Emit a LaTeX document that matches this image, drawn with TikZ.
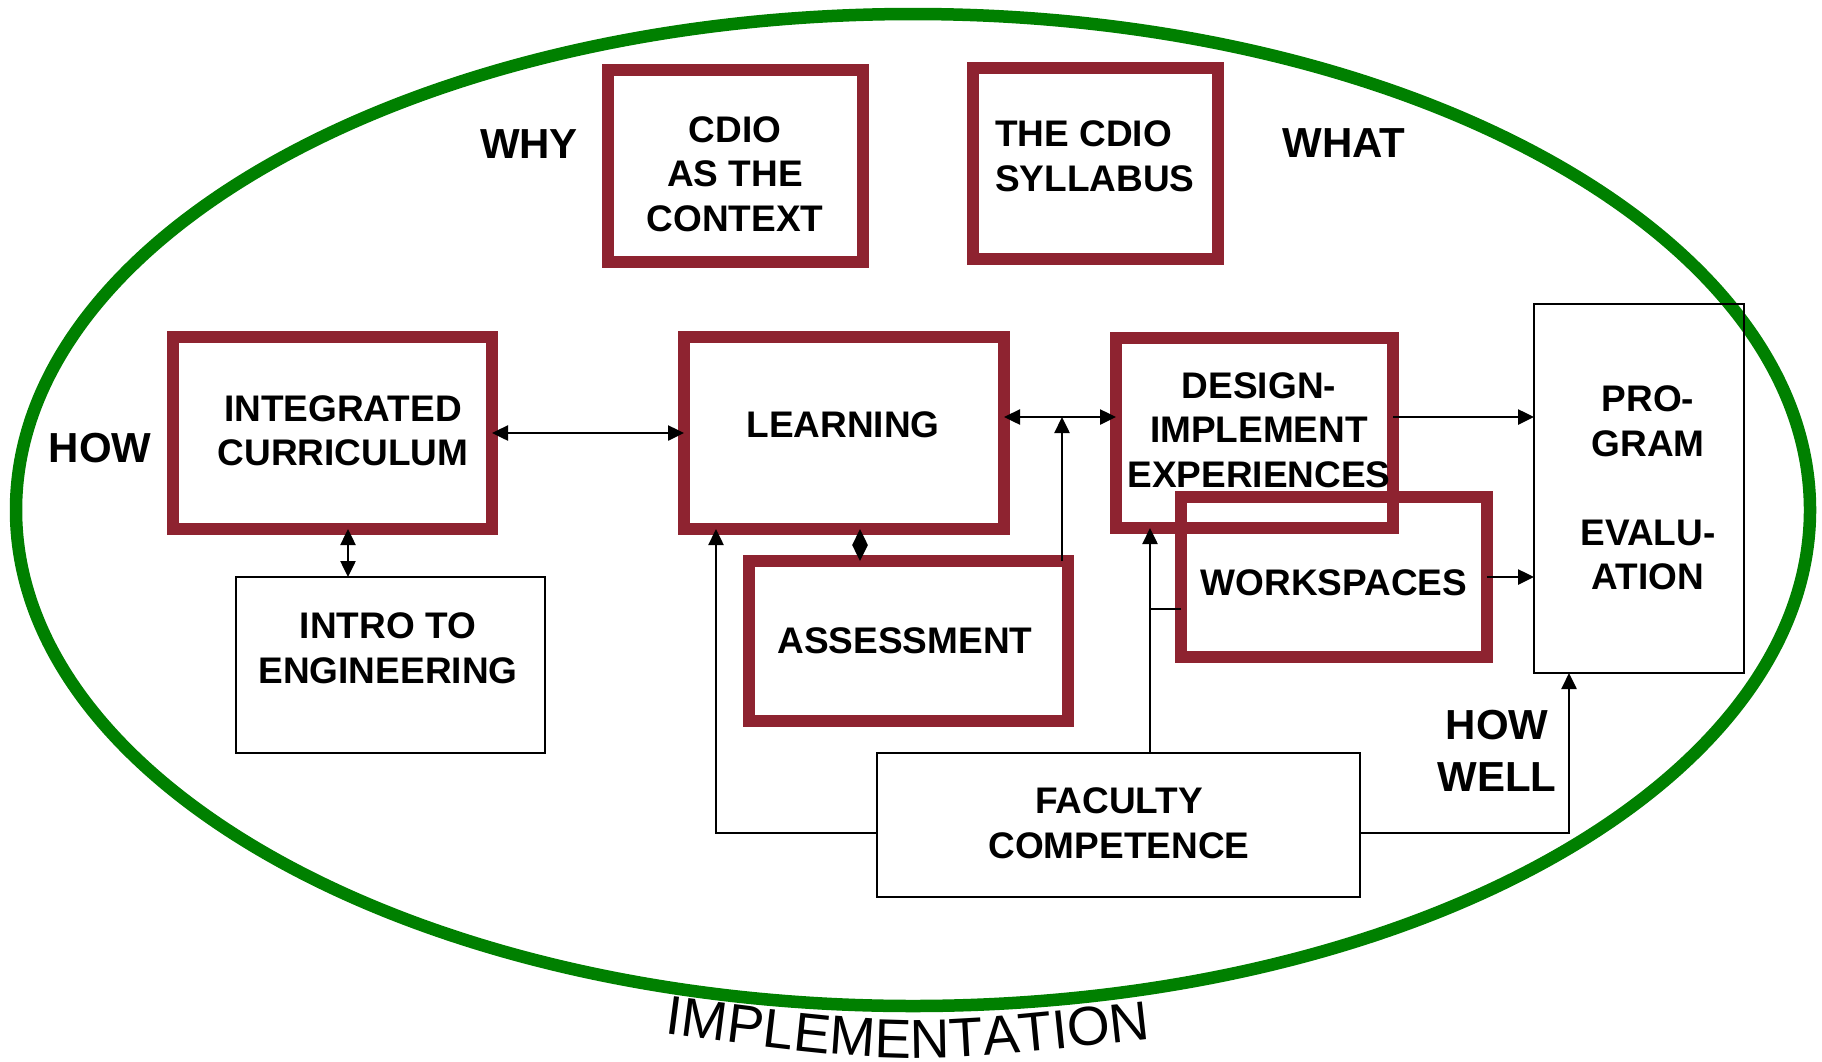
\documentclass[tikz,border=0pt]{standalone}
\usepackage{fontspec}
\setmainfont{Liberation Sans}
\usetikzlibrary{arrows.meta,decorations.text}
\definecolor{boxred}{RGB}{142,35,48}
\definecolor{ringgreen}{RGB}{0,128,0}
\newcommand{\implfont}{\fontsize{55pt}{60pt}\selectfont}
\begin{document}
\begin{tikzpicture}[x=1pt,y=-1pt,
  >={Triangle[length=16pt,width=15pt]},
  redbox/.style={draw=boxred, line width=12pt, rectangle, inner sep=0pt, outer sep=0pt},
  thinbox/.style={draw=black, line width=2.5pt, rectangle, inner sep=0pt, outer sep=0pt},
  boxtext/.style={font=\fontsize{37pt}{44.5pt}\selectfont\bfseries, align=center, inner sep=0pt},
  lbl/.style={font=\fontsize{42pt}{52pt}\selectfont\bfseries, align=center, inner sep=0pt},
  conn/.style={line width=2.5pt}]
\useasboundingbox (0,0) rectangle (1822,1061);
\draw[ringgreen, line width=12.5pt] (913,510) ellipse [x radius=897pt, y radius=496pt];

% boxes
\node[redbox, minimum width=255pt, minimum height=192pt] (cdio) at (735.5,166) {};
\node[redbox, minimum width=245pt, minimum height=191pt] (syl) at (1095.5,163.5) {};
\node[redbox, minimum width=319pt, minimum height=192pt] (ic) at (332.5,433) {};
\node[redbox, minimum width=320pt, minimum height=192pt] (learn) at (844,433) {};
\node[redbox, minimum width=277pt, minimum height=190pt] (die) at (1254.5,433) {};
\node[redbox, minimum width=306pt, minimum height=160pt] (ws) at (1334,577) {};
\node[redbox, minimum width=319pt, minimum height=160pt] (assess) at (908.5,641) {};
\node[thinbox, minimum width=309pt, minimum height=176pt] (intro) at (390.5,665) {};
\node[thinbox, minimum width=210pt, minimum height=369pt] (pe) at (1639,488.5) {};
\node[thinbox, minimum width=483pt, minimum height=144pt] (fac) at (1118.5,825) {};

% box texts
\node[boxtext] (cdiot) at (735,174) {CDIO\\AS THE\\CONTEXT};
\node[boxtext, align=left, anchor=west] (sylt) at (995,156.5) {THE CDIO\\SYLLABUS};
\node[boxtext] (ict) at (343,431) {INTEGRATED\\CURRICULUM};
\node[boxtext] (learnt) at (843,425) {LEARNING};
\node[boxtext] (diet) at (1259,430) {DESIGN-\\IMPLEMENT\\EXPERIENCES};
\node[boxtext] (wst) at (1334,583) {WORKSPACES};
\node[boxtext] (assesst) at (905,641) {ASSESSMENT};
\node[boxtext] (introt) at (388,648) {INTRO TO\\ENGINEERING};
\node[boxtext] (pet) at (1648,488) {PRO-\\GRAM\\~\\EVALU-\\ATION};
\node[boxtext] (fact) at (1119,823) {FACULTY\\COMPETENCE};

% labels
\node[lbl] (why) at (529,144) {WHY};
\node[lbl] (what) at (1344,143) {WHAT};
\node[lbl] (how) at (100,448) {HOW};
\node[lbl] (howwell) at (1497,751) {HOW\\WELL};

% helper coordinates
\coordinate (yA) at (0,417);
\coordinate (yB) at (0,609);
\coordinate (yC) at (0,833);
\coordinate (xA) at (348,0);
\coordinate (xB) at (860,0);
\coordinate (xC) at (1062,0);
\coordinate (xD) at (1150,0);
\coordinate (xE) at (716,0);
\coordinate (xF) at (1569,0);

% connectors
\draw[conn,<->] (ic.east) -- (learn.west);
\draw[conn,<->] (ic.south -| xA) -- (intro.north -| xA);
\draw[conn,<->] (learn.east |- yA) -- (die.west |- yA);
\draw[conn,->] (assess.north -| xC) -- (yA -| xC);
\draw[conn,<->] (learn.south -| xB) -- (assess.north -| xB);
\draw[conn,->] (die.east |- yA) -- (pe.west |- yA);
\draw[conn,->] (ws.east) -- (pe.west |- ws.east);
\draw[conn,->] (fac.north -| xD) -- (die.south -| xD);
\draw[conn] (yB -| xD) -- (ws.west |- yB);
\draw[conn,->] (fac.west |- yC) -| (learn.south -| xE);
\draw[conn,->] (fac.east |- yC) -| (pe.south -| xF);

% curved title
\path[decorate, decoration={text along path, text={|\implfont|IMPLEMENTATION}, text align=center}]
  (650,1032) .. controls (908,1066) .. (1166,1037);
\end{tikzpicture}
\end{document}
